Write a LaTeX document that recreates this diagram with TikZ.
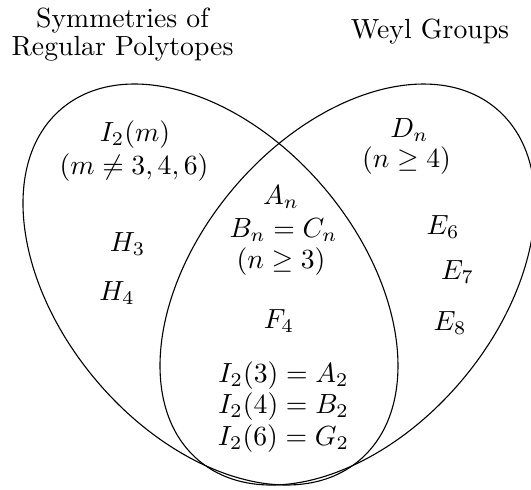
\documentclass[tikz,border=0pt]{standalone}
\usepackage{amssymb}
\begin{document}
\begin{tikzpicture}[x=0.361pt,y=0.361pt,
  lbl/.style={anchor=base,inner sep=0pt,outer sep=0pt},
  venn/.style={draw=black,line width=0.4pt}]
\useasboundingbox (0,0) rectangle (531,489);
\clip (0,0) rectangle (531,489);
% ellipses (y = 489 - pixel row)
\coordinate (cl) at (210.5,204.5);
\coordinate (cr) at (347.5,204.5);
\draw[venn,rotate around={-49.7:(cl)}] (cl) ellipse [x radius=230.4,y radius=149.2];
\draw[venn,rotate around={49.7:(cr)}] (cr) ellipse [x radius=230.4,y radius=149.2];
% headings
\node[lbl] (s1) at (122.5,461.5) {Symmetries of};
\node[lbl] (s2) at (122.5,434) {Regular Polytopes};
\node[lbl] (wg) at (430,451) {Weyl Groups};
% left only
\node[lbl] (im) at (135,348) {$I_2(m)$};
\node[lbl] (imc) at (134,315) {$(m\neq 3,4,6)$};
\node[lbl] (h3) at (127.5,238) {$H_3$};
\node[lbl] (h4) at (117,188.5) {$H_4$};
% right only
\node[lbl] (dn) at (409.5,352) {$D_n$};
\node[lbl] (dnc) at (406.5,321.5) {$(n\geq 4)$};
\node[lbl] (e6) at (443,255) {$E_6$};
\node[lbl] (e7) at (457.5,210) {$E_7$};
\node[lbl] (e8) at (450,158.5) {$E_8$};
% intersection
\node[lbl] (an) at (281,285) {$A_n$};
\node[lbl] (bn) at (283.5,252) {$B_n=C_n$};
\node[lbl] (bnc) at (281,221) {$(n\geq 3)$};
\node[lbl] (f4) at (279,160.5) {$F_4$};
\node[lbl] (i3) at (283.5,107) {$I_2(3)=A_2$};
\node[lbl] (i4) at (283.5,76) {$I_2(4)=B_2$};
\node[lbl] (i6) at (283.5,44) {$I_2(6)=G_2$};
\end{tikzpicture}
\end{document}
